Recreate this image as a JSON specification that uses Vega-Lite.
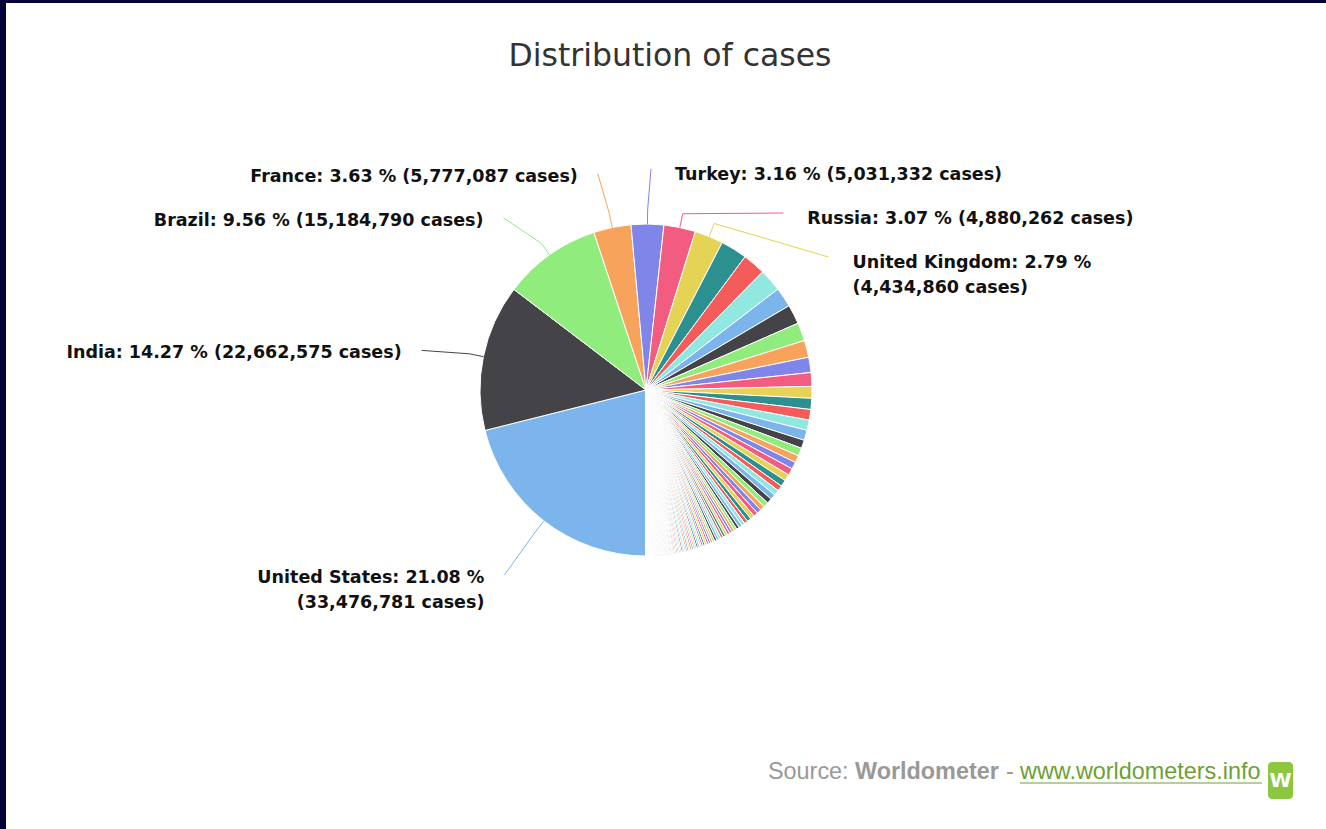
{
  "$schema": "https://vega.github.io/schema/vega-lite/v6.json",
  "width": 1320,
  "height": 826,
  "autosize": {"type": "none"},
  "padding": {"left": 6, "top": 3, "right": 0, "bottom": 0},
  "background": "#040039",
  "config": {"view": {"fill": "#ffffff", "stroke": null}},
  "title": {
    "text": "Distribution of cases",
    "font": "DejaVu Sans",
    "fontSize": 31.5,
    "fontWeight": "normal",
    "color": "#333333",
    "anchor": "middle",
    "baseline": "alphabetic",
    "offset": -63,
    "dx": 4,
    "dy": 31
  },
  "datasets": {
    "countries": [
      {"country": "United States", "cases": 33476781},
      {"country": "India", "cases": 22662575},
      {"country": "Brazil", "cases": 15184790},
      {"country": "France", "cases": 5777087},
      {"country": "Turkey", "cases": 5031332},
      {"country": "Russia", "cases": 4880262},
      {"country": "United Kingdom", "cases": 4434860},
      {"country": "Italy", "cases": 4100000},
      {"country": "Spain", "cases": 3530000},
      {"country": "Germany", "cases": 3505000},
      {"country": "Argentina", "cases": 3050000},
      {"country": "Colombia", "cases": 2990000},
      {"country": "Poland", "cases": 2815000},
      {"country": "Iran", "cases": 2620000},
      {"country": "Mexico", "cases": 2355000},
      {"country": "Ukraine", "cases": 2125000},
      {"country": "Peru", "cases": 1817126},
      {"country": "Indonesia", "cases": 1713000},
      {"country": "Czechia", "cases": 1640000},
      {"country": "South Africa", "cases": 1585000},
      {"country": "Netherlands", "cases": 1575000},
      {"country": "Canada", "cases": 1283000},
      {"country": "Chile", "cases": 1230000},
      {"country": "Iraq", "cases": 1110000},
      {"country": "Philippines", "cases": 1097000},
      {"country": "Romania", "cases": 1066000},
      {"country": "Belgium", "cases": 1013000},
      {"country": "Sweden", "cases": 1011000},
      {"country": "Pakistan", "cases": 850000},
      {"country": "Portugal", "cases": 839000},
      {"country": "Israel", "cases": 838900},
      {"country": "Hungary", "cases": 796000},
      {"country": "Bangladesh", "cases": 772000},
      {"country": "Jordan", "cases": 717000},
      {"country": "Serbia", "cases": 703000},
      {"country": "Switzerland", "cases": 677000},
      {"country": "Japan", "cases": 640000},
      {"country": "Austria", "cases": 637000},
      {"country": "United Arab Emirates", "cases": 539000},
      {"country": "Lebanon", "cases": 535000},
      {"country": "Morocco", "cases": 513000},
      {"country": "Malaysia", "cases": 440000},
      {"country": "Saudi Arabia", "cases": 425000},
      {"country": "Bulgaria", "cases": 411000},
      {"country": "Ecuador", "cases": 400000},
      {"country": "Kazakhstan", "cases": 386500},
      {"country": "Slovakia", "cases": 385500},
      {"country": "Nepal", "cases": 380000},
      {"country": "Panama", "cases": 367500},
      {"country": "Belarus", "cases": 367000},
      {"country": "Greece", "cases": 355000},
      {"country": "Croatia", "cases": 345000},
      {"country": "Azerbaijan", "cases": 328000},
      {"country": "Georgia", "cases": 321000},
      {"country": "Tunisia", "cases": 320000},
      {"country": "Bolivia", "cases": 311000},
      {"country": "Paraguay", "cases": 309000},
      {"country": "Palestine", "cases": 297000},
      {"country": "Kuwait", "cases": 280000},
      {"country": "Dominican Republic", "cases": 263000},
      {"country": "Ethiopia", "cases": 261000},
      {"country": "Denmark", "cases": 259000},
      {"country": "Lithuania", "cases": 258000},
      {"country": "Costa Rica", "cases": 255000},
      {"country": "Moldova", "cases": 253000},
      {"country": "Ireland", "cases": 252000},
      {"country": "Slovenia", "cases": 246000},
      {"country": "Guatemala", "cases": 236000},
      {"country": "Egypt", "cases": 233000},
      {"country": "Armenia", "cases": 220500},
      {"country": "Honduras", "cases": 219500},
      {"country": "Uruguay", "cases": 219000},
      {"country": "Qatar", "cases": 212000},
      {"country": "Venezuela", "cases": 205000},
      {"country": "Oman", "cases": 202000},
      {"country": "Bosnia and Herzegovina", "cases": 201000},
      {"country": "Bahrain", "cases": 184000},
      {"country": "Libya", "cases": 179000},
      {"country": "Nigeria", "cases": 165000},
      {"country": "Kenya", "cases": 162000},
      {"country": "North Macedonia", "cases": 154000},
      {"country": "Myanmar", "cases": 142000},
      {"country": "Albania", "cases": 131000},
      {"country": "South Korea", "cases": 127700},
      {"country": "Estonia", "cases": 127000},
      {"country": "Latvia", "cases": 126000},
      {"country": "Sri Lanka", "cases": 125000},
      {"country": "Algeria", "cases": 123000},
      {"country": "Norway", "cases": 120000},
      {"country": "Cuba", "cases": 117000},
      {"country": "Kosovo", "cases": 106000},
      {"country": "Montenegro", "cases": 99000},
      {"country": "Kyrgyzstan", "cases": 98500},
      {"country": "Uzbekistan", "cases": 93500},
      {"country": "Ghana", "cases": 93000},
      {"country": "Zambia", "cases": 92000},
      {"country": "China", "cases": 90800},
      {"country": "Finland", "cases": 89000},
      {"country": "Thailand", "cases": 86000},
      {"country": "Cameroon", "cases": 75000},
      {"country": "Mozambique", "cases": 70500},
      {"country": "El Salvador", "cases": 70000},
      {"country": "Luxembourg", "cases": 69000},
      {"country": "Cyprus", "cases": 68000},
      {"country": "Afghanistan", "cases": 62000},
      {"country": "Singapore", "cases": 61300},
      {"country": "Mongolia", "cases": 50800},
      {"country": "Namibia", "cases": 50500},
      {"country": "Botswana", "cases": 50000},
      {"country": "Jamaica", "cases": 48000},
      {"country": "Côte d'Ivoire", "cases": 46500},
      {"country": "Uganda", "cases": 42000},
      {"country": "Senegal", "cases": 40500},
      {"country": "Madagascar", "cases": 40000},
      {"country": "Zimbabwe", "cases": 38300},
      {"country": "Maldives", "cases": 38000},
      {"country": "Sudan", "cases": 34500},
      {"country": "Malawi", "cases": 34000},
      {"country": "Malta", "cases": 30400},
      {"country": "DR Congo", "cases": 30000},
      {"country": "Australia", "cases": 29900},
      {"country": "Angola", "cases": 29000},
      {"country": "Cabo Verde", "cases": 26500},
      {"country": "Rwanda", "cases": 25500},
      {"country": "Réunion", "cases": 24000},
      {"country": "Gabon", "cases": 23100},
      {"country": "Syria", "cases": 22900},
      {"country": "Guinea", "cases": 22500},
      {"country": "French Guiana", "cases": 20600},
      {"country": "Cambodia", "cases": 20000},
      {"country": "Mayotte", "cases": 19000},
      {"country": "Mauritania", "cases": 18900},
      {"country": "French Polynesia", "cases": 18800},
      {"country": "Eswatini", "cases": 18500},
      {"country": "Guadeloupe", "cases": 16000},
      {"country": "Guyana", "cases": 15800},
      {"country": "Somalia", "cases": 14300},
      {"country": "Mali", "cases": 14100},
      {"country": "Andorra", "cases": 13400},
      {"country": "Burkina Faso", "cases": 13300},
      {"country": "Tajikistan", "cases": 13250},
      {"country": "Haiti", "cases": 13000},
      {"country": "Togo", "cases": 12900},
      {"country": "Belize", "cases": 12700},
      {"country": "Papua New Guinea", "cases": 12000},
      {"country": "Hong Kong", "cases": 11800},
      {"country": "Curaçao", "cases": 11700},
      {"country": "Djibouti", "cases": 11300},
      {"country": "Martinique", "cases": 11100},
      {"country": "Congo", "cases": 11000},
      {"country": "Suriname", "cases": 10900},
      {"country": "Trinidad and Tobago", "cases": 10800},
      {"country": "Aruba", "cases": 10750},
      {"country": "Lesotho", "cases": 10700},
      {"country": "South Sudan", "cases": 10600},
      {"country": "Bahamas", "cases": 10400},
      {"country": "Benin", "cases": 7900},
      {"country": "Equatorial Guinea", "cases": 7800},
      {"country": "Seychelles", "cases": 7500},
      {"country": "Nicaragua", "cases": 7000},
      {"country": "Central African Republic", "cases": 6700},
      {"country": "Iceland", "cases": 6500},
      {"country": "Yemen", "cases": 6450},
      {"country": "Gambia", "cases": 5900},
      {"country": "Niger", "cases": 5300},
      {"country": "San Marino", "cases": 5050},
      {"country": "Chad", "cases": 4900},
      {"country": "Saint Lucia", "cases": 4700},
      {"country": "Gibraltar", "cases": 4300},
      {"country": "Sierra Leone", "cases": 4150},
      {"country": "Channel Islands", "cases": 4120},
      {"country": "Eritrea", "cases": 4080},
      {"country": "Burundi", "cases": 4060},
      {"country": "Barbados", "cases": 3900},
      {"country": "Comoros", "cases": 3810},
      {"country": "Guinea-Bissau", "cases": 3700},
      {"country": "Vietnam", "cases": 3300},
      {"country": "Liechtenstein", "cases": 3000},
      {"country": "Timor-Leste", "cases": 2700},
      {"country": "New Zealand", "cases": 2640},
      {"country": "Monaco", "cases": 2500},
      {"country": "Bermuda", "cases": 2420},
      {"country": "Turks and Caicos", "cases": 2400},
      {"country": "Sint Maarten", "cases": 2300},
      {"country": "Sao Tome and Principe", "cases": 2290},
      {"country": "Liberia", "cases": 2100},
      {"country": "St. Vincent Grenadines", "cases": 1900},
      {"country": "Saint Martin", "cases": 1700},
      {"country": "Isle of Man", "cases": 1600},
      {"country": "Caribbean Netherlands", "cases": 1580},
      {"country": "Mauritius", "cases": 1250},
      {"country": "Antigua and Barbuda", "cases": 1230},
      {"country": "Taiwan", "cases": 1210},
      {"country": "Laos", "cases": 1190},
      {"country": "Bhutan", "cases": 1100},
      {"country": "St. Barth", "cases": 1000},
      {"country": "Diamond Princess", "cases": 712},
      {"country": "Faeroe Islands", "cases": 700},
      {"country": "Cayman Islands", "cases": 540},
      {"country": "Tanzania", "cases": 509},
      {"country": "Brunei", "cases": 230},
      {"country": "British Virgin Islands", "cases": 200},
      {"country": "Dominica", "cases": 175},
      {"country": "Grenada", "cases": 161},
      {"country": "New Caledonia", "cases": 125},
      {"country": "Fiji", "cases": 100},
      {"country": "Falkland Islands", "cases": 63},
      {"country": "Macao", "cases": 49},
      {"country": "Saint Kitts and Nevis", "cases": 45},
      {"country": "Greenland", "cases": 31},
      {"country": "Vatican City", "cases": 27},
      {"country": "Saint Pierre Miquelon", "cases": 25},
      {"country": "Montserrat", "cases": 20},
      {"country": "Solomon Islands", "cases": 19},
      {"country": "Western Sahara", "cases": 10},
      {"country": "MS Zaandam", "cases": 9},
      {"country": "Marshall Islands", "cases": 4},
      {"country": "Wallis and Futuna", "cases": 3}
    ]
  },
  "layer": [
    {
      "data": {"name": "countries"},
      "mark": {
        "type": "arc",
        "radius": 166,
        "stroke": "#ffffff",
        "strokeWidth": 1,
        "x": {"expr": "width / 2 - 20"},
        "y": {"expr": "height / 2 - 26"}
      },
      "encoding": {
        "theta": {
          "field": "cases",
          "type": "quantitative",
          "stack": true,
          "scale": {"range": [3.141592653589793, 9.42477796076938]}
        },
        "color": {
          "field": "country",
          "type": "nominal",
          "sort": null,
          "legend": null,
          "scale": {"range": ["#7cb5ec", "#434348", "#90ed7d", "#f7a35c", "#8085e9", "#f15c80", "#e4d354", "#2b908f", "#f45b5b", "#91e8e1"]}
        },
        "order": {"field": "cases", "type": "quantitative", "sort": "descending"}
      }
    },
    {
      "data": {"name": "countries"},
      "transform": [
        {"joinaggregate": [{"op": "sum", "field": "cases", "as": "total"}]},
        {
          "window": [
            {"op": "sum", "field": "cases", "as": "cum"},
            {"op": "row_number", "as": "rank"}
          ],
          "sort": [{"field": "cases", "order": "descending"}],
          "frame": [null, 0]
        },
        {"filter": "datum.rank <= 7"},
        {"calculate": "PI + 2 * PI * (datum.cum - datum.cases / 2) / datum.total", "as": "mid"},
        {"calculate": "sin(datum.mid) > 0 ? 'right' : 'left'", "as": "side"},
        {"calculate": "-227 * cos(datum.mid)", "as": "ynat"},
        {
          "window": [{"op": "row_number", "as": "k"}],
          "groupby": ["side"],
          "sort": [{"field": "ynat", "order": "ascending"}]
        },
        {"calculate": "datum.ynat - 44 * datum.k", "as": "shifted"},
        {
          "window": [{"op": "max", "field": "shifted", "as": "mx"}],
          "groupby": ["side"],
          "sort": [{"field": "ynat", "order": "ascending"}],
          "frame": [null, 0]
        },
        {"calculate": "datum.mx + 44 * datum.k", "as": "ylab"},
        {"calculate": "(datum.side == 'right' ? 1 : -1) * sqrt(max(0, 227 * 227 - datum.ylab * datum.ylab))", "as": "xlab"},
        {"calculate": "width / 2 - 20", "as": "cx"},
        {"calculate": "height / 2 - 26", "as": "cy"},
        {"calculate": "datum.cx + 166 * sin(datum.mid)", "as": "ex0"},
        {"calculate": "datum.cy - 166 * cos(datum.mid)", "as": "ey0"},
        {"calculate": "datum.cx + 180 * sin(datum.mid)", "as": "ex1"},
        {"calculate": "datum.cy - 180 * cos(datum.mid)", "as": "ey1"},
        {"calculate": "datum.cx + datum.xlab + (datum.side == 'right' ? 3 : -2)", "as": "ex2"},
        {"calculate": "datum.cy + datum.ylab + 6", "as": "ey2"},
        {"calculate": "datum.cx + datum.xlab + (datum.side == 'right' ? 27 : -22)", "as": "tx"},
        {"calculate": "datum.cy + datum.ylab + (datum.side == 'right' ? 17 : 14)", "as": "ty"},
        {"calculate": "floor(datum.cases / datum.total * 10000) / 100", "as": "pct"},
        {"calculate": "datum.country + ': ' + format(datum.pct, '.2f') + ' % (' + format(datum.cases, ',') + ' cases)'", "as": "full"},
        {"calculate": "length(datum.full) > 36 ? [datum.country + ': ' + format(datum.pct, '.2f') + ' %', '(' + format(datum.cases, ',') + ' cases)'] : datum.full", "as": "label"}
      ],
      "layer": [
        {
          "mark": {"type": "rule", "strokeWidth": 1},
          "encoding": {
            "x": {"field": "ex0", "type": "quantitative", "scale": null, "axis": null},
            "y": {"field": "ey0", "type": "quantitative", "scale": null, "axis": null},
            "x2": {"field": "ex1"},
            "y2": {"field": "ey1"},
            "color": {
              "field": "country",
              "type": "nominal",
              "legend": null,
              "scale": {
                "domain": ["United States", "India", "Brazil", "France", "Turkey", "Russia", "United Kingdom"],
                "range": ["#7cb5ec", "#434348", "#90ed7d", "#f7a35c", "#8085e9", "#f15c80", "#e4d354"]
              }
            }
          }
        },
        {
          "mark": {"type": "rule", "strokeWidth": 1},
          "encoding": {
            "x": {"field": "ex1", "type": "quantitative", "scale": null, "axis": null},
            "y": {"field": "ey1", "type": "quantitative", "scale": null, "axis": null},
            "x2": {"field": "ex2"},
            "y2": {"field": "ey2"},
            "color": {
              "field": "country",
              "type": "nominal",
              "legend": null,
              "scale": {
                "domain": ["United States", "India", "Brazil", "France", "Turkey", "Russia", "United Kingdom"],
                "range": ["#7cb5ec", "#434348", "#90ed7d", "#f7a35c", "#8085e9", "#f15c80", "#e4d354"]
              }
            }
          }
        },
        {
          "transform": [{"filter": "datum.side == 'right'"}],
          "mark": {"type": "text", "align": "left", "baseline": "alphabetic", "font": "DejaVu Sans", "fontWeight": "bold", "fontSize": 17.5, "lineHeight": 25, "color": "#111111"},
          "encoding": {
            "x": {"field": "tx", "type": "quantitative", "scale": null, "axis": null},
            "y": {"field": "ty", "type": "quantitative", "scale": null, "axis": null},
            "text": {"field": "label", "type": "nominal"}
          }
        },
        {
          "transform": [{"filter": "datum.side == 'left'"}],
          "mark": {"type": "text", "align": "right", "baseline": "alphabetic", "font": "DejaVu Sans", "fontWeight": "bold", "fontSize": 17.5, "lineHeight": 25, "color": "#111111"},
          "encoding": {
            "x": {"field": "tx", "type": "quantitative", "scale": null, "axis": null},
            "y": {"field": "ty", "type": "quantitative", "scale": null, "axis": null},
            "text": {"field": "label", "type": "nominal"}
          }
        }
      ]
    },
    {
      "data": {"values": [{"credit": "Source:"}]},
      "mark": {"type": "text", "align": "left", "baseline": "alphabetic", "font": "Liberation Sans", "fontSize": 23.4, "color": "#999999", "x": {"expr": "width - 558"}, "y": {"expr": "height - 50"}},
      "encoding": {"text": {"field": "credit", "type": "nominal"}}
    },
    {
      "data": {"values": [{"credit": "Worldometer"}]},
      "mark": {"type": "text", "align": "left", "baseline": "alphabetic", "font": "Liberation Sans", "fontWeight": "bold", "fontSize": 23.4, "color": "#999999", "x": {"expr": "width - 471"}, "y": {"expr": "height - 50"}},
      "encoding": {"text": {"field": "credit", "type": "nominal"}}
    },
    {
      "data": {"values": [{"credit": "-"}]},
      "mark": {"type": "text", "align": "left", "baseline": "alphabetic", "font": "Liberation Sans", "fontSize": 23.4, "color": "#999999", "x": {"expr": "width - 320"}, "y": {"expr": "height - 50"}},
      "encoding": {"text": {"field": "credit", "type": "nominal"}}
    },
    {
      "data": {"values": [{"credit": "www.worldometers.info"}]},
      "mark": {"type": "text", "align": "left", "baseline": "alphabetic", "font": "Liberation Sans", "fontSize": 23.4, "color": "#6f9f35", "x": {"expr": "width - 306"}, "y": {"expr": "height - 50"}},
      "encoding": {"text": {"field": "credit", "type": "nominal"}}
    },
    {
      "data": {"values": [{"credit": "www.worldometers.info"}]},
      "mark": {"type": "rule", "color": "#6f9f35", "strokeWidth": 1.2},
      "encoding": {
        "x": {"value": {"expr": "width - 306"}},
        "x2": {"value": {"expr": "width - 64"}},
        "y": {"value": {"expr": "height - 46"}},
        "y2": {"value": {"expr": "height - 46"}}
      }
    },
    {
      "data": {"values": [{"credit": "logo"}]},
      "mark": {"type": "rect", "color": "#8dc63f", "cornerRadius": 4, "x": {"expr": "width - 58"}, "x2": {"expr": "width - 33"}, "y": {"expr": "height - 67"}, "y2": {"expr": "height - 30"}},
      "encoding": {}
    },
    {
      "data": {"values": [{"credit": "W"}]},
      "mark": {"type": "text", "align": "center", "baseline": "middle", "font": "DejaVu Sans", "fontWeight": "bold", "fontSize": 20, "color": "#ffffff", "x": {"expr": "width - 45.5"}, "y": {"expr": "height - 48"}},
      "encoding": {"text": {"field": "credit", "type": "nominal"}}
    }
  ],
  "resolve": {"scale": {"color": "independent"}}
}
